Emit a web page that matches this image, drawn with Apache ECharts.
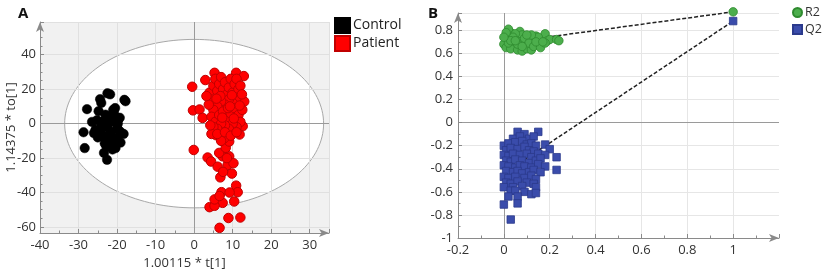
<!DOCTYPE html>
<html>
<head>
<meta charset="utf-8">
<script src="https://cdn.jsdelivr.net/npm/echarts@6/dist/echarts.min.js"></script>
<style>html,body{margin:0;padding:0;background:#fff}#c{width:825px;height:275px}</style>
</head>
<body>
<div id="c"></div>
<script>
// ---------- Panel A: OPLS-DA scores ----------
var controlPoints = [
  [-27.8,8.4],[-22.5,17.6],[-21.8,17],[-24.4,14.2],[-18.1,13.8],[-17.8,13],[-28.7,-5],[-28.4,-14.2],
  [-23.4,-17],[-22.6,-21],[-18.3,-6],[-20.5,9],[-19.3,3.4],[-25.2,2],[-25.6,-3.6],[-23.9,-0.5],
  [-21.7,-4.7],[-23,-8.4],[-21,-11],[-20.4,-14.2],[-19.1,-11],[-20,-2.7],[-22.2,-10],[-23.9,-6.4],
  [-24.8,7.2],[-23,5.2],[-21.3,1.3],[-24.1,12],[-21,8],[-20.8,6],[-26.5,1],[-26,-5.5],[-22.5,-2],
  [-21.5,-7],[-22.8,-13],[-21.2,-15],[-19.8,0],[-20.2,-8.5],[-23.5,1.5],[-24.2,-2.8],[-22,3.5],
  [-25,-8],[-21,4.5],[-19.5,-4],[-23.2,-11.5],[-20.2,2.3],[-18.9,-5.3]
];
var patientPoints = [
  [-0.5,21.4],[2.9,25.3],[-0.3,7.7],[1.4,8.2],[2.2,3.3],[-0.1,-15.3],[5.3,29.5],[10.9,29.5],[12.9,27.6],
  [13,12.8],[12.6,-1.5],[11.8,-6.3],[3.5,-19.7],[6.8,-31.2],[9.8,-29],[10.9,-36],[11.3,-39.8],[7.1,-39.8],
  [10.4,-45.2],[7.4,-46],[4,-48.5],[5.3,-47.7],[8.9,-54.8],[12,-54.5],[6.6,-60.5],[5.3,-44],[6.6,-42],
  [9.2,-40],[4.4,-22],[6.1,-25],[8.7,-24],[7.4,-19],[9.1,-19],[6.5,-17],[8.2,-14],[9.1,-10.4],[7.8,-8.5],
  [5.7,-6.7],[7,-10],[10.2,-23],[7.5,-28],[8.5,-20],
  [4,18],[4.5,14],[5,22],[5.5,26],[6,19],[6.5,23],[7,27],[7.5,20],[8,24],[8.5,17],[9,21],[9.5,26],
  [10,18],[10.5,23],[11,26],[11.5,20],[12,22],[11,15],[10,12],[9,14],[8,11],[7,13],[6,10],[5,8],
  [4.5,4],[5.5,1],[6.5,5],[7.5,7],[8.5,3],[9.5,6],[10.5,9],[11.5,5],[12,1],[11,-2],[10,0],[9,-3],
  [8,-1],[7,0],[6,-3],[5,-2],[4.5,-6],[6,-6],[8,-5],[9.5,-7],[11,-5],[12.5,8],[3.8,11],[3.2,16],
  [6.8,16],[8.8,9],[10.3,3],[7.3,3.5],[5.8,14.5],[9.8,16.5],[11.8,10.5],[4.2,-1],[12.4,17],[9.3,10]
];
var ellipseRadii = [33.6, 48.9];

// ---------- Panel B: permutation test ----------
var r2Points = [
  [0.01,0.72],[0.02,0.75],[0.03,0.78],[0.02,0.81],[0.04,0.70],[0.05,0.66],[0.00,0.68],[0.01,0.65],
  [0.03,0.64],[0.06,0.73],[0.07,0.79],[0.08,0.76],[0.09,0.70],[0.10,0.67],[0.11,0.74],[0.12,0.72],
  [0.13,0.69],[0.14,0.75],[0.15,0.71],[0.16,0.68],[0.17,0.73],[0.18,0.77],[0.19,0.71],[0.20,0.72],
  [0.23,0.72],[0.24,0.71],[0.06,0.63],[0.08,0.62],[0.10,0.64],[0.12,0.63],[0.05,0.77],[0.04,0.74],
  [0.02,0.69],[0.07,0.70],[0.09,0.73],[0.11,0.69],[0.13,0.66],[0.15,0.74],[0.16,0.65],[0.01,0.78],
  [0.03,0.71],[0.06,0.68],[0.08,0.66],[0.14,0.70],[0.18,0.69],[0.12,0.76],[0.00,0.74],[0.05,0.71],
  [0.10,0.76],[0.17,0.70],[1.00,0.96]
];
var q2Points = [
  [0.06,-0.08],[0.09,-0.10],[0.15,-0.08],[0.04,-0.14],[0.07,-0.12],[0.11,-0.14],[0.13,-0.12],
  [0.00,-0.20],[0.02,-0.18],[0.05,-0.17],[0.08,-0.16],[0.10,-0.19],[0.12,-0.18],[0.14,-0.20],
  [0.01,-0.24],[0.03,-0.22],[0.06,-0.23],[0.09,-0.21],[0.11,-0.24],[0.13,-0.25],[0.18,-0.19],[0.20,-0.23],
  [0.00,-0.28],[0.02,-0.29],[0.04,-0.27],[0.07,-0.28],[0.10,-0.27],[0.12,-0.30],[0.15,-0.27],[0.18,-0.28],[0.23,-0.30],
  [0.01,-0.33],[0.03,-0.34],[0.05,-0.32],[0.08,-0.33],[0.11,-0.35],[0.14,-0.33],[0.16,-0.31],
  [0.00,-0.37],[0.02,-0.38],[0.05,-0.39],[0.07,-0.37],[0.09,-0.38],[0.12,-0.39],[0.15,-0.36],[0.18,-0.38],
  [0.01,-0.42],[0.04,-0.43],[0.06,-0.42],[0.08,-0.44],[0.11,-0.43],[0.13,-0.41],[0.16,-0.43],[0.23,-0.41],
  [0.00,-0.47],[0.02,-0.48],[0.05,-0.47],[0.09,-0.48],[0.12,-0.46],[0.14,-0.49],
  [0.01,-0.52],[0.03,-0.53],[0.06,-0.51],[0.10,-0.52],[0.13,-0.53],
  [0.00,-0.56],[0.04,-0.56],[0.08,-0.55],[0.14,-0.56],
  [0.03,-0.59],[0.05,-0.59],[0.09,-0.60],[0.12,-0.62],[0.14,-0.61],
  [0.02,-0.64],[0.06,-0.64],[0.00,-0.71],[0.06,-0.70],[0.03,-0.84],[1.00,0.88]
];
var r2Line = [[0,0.69],[1,0.96]];
var q2Line = [[0,-0.44],[1,0.88]];

var FONT = 'Open Sans';
var axisCol = '#8a8a8a';
function axisBase(o){
  var base = {
    type:'value',
    axisLine:{show:true,onZero:false,symbol:['none','arrow'],symbolSize:[6,10],lineStyle:{color:axisCol,width:1}},
    axisTick:{show:true,inside:true,length:4,lineStyle:{color:axisCol}},
    minorTick:{show:true,splitNumber:2,length:2.5,lineStyle:{color:axisCol}},
    axisLabel:{color:'#333',fontSize:13,fontFamily:FONT,showMaxLabel:false},
    splitLine:{show:true,lineStyle:{color:'#e0e0e0',width:1}},
    nameMoveOverlap:false,
    nameTextStyle:{color:'#333',fontSize:13,fontFamily:FONT}
  };
  for (var k in o) base[k]=o[k];
  return base;
}

var chart = echarts.init(document.getElementById('c'), null, {renderer:'canvas'});
chart.setOption({
  animation:false,
  backgroundColor:'#fff',
  title:[
    {text:'A',left:13,top:1,textStyle:{fontSize:15,fontWeight:'bold',color:'#111',fontFamily:FONT}},
    {text:'B',left:423,top:1,textStyle:{fontSize:15,fontWeight:'bold',color:'#111',fontFamily:FONT}}
  ],
  legend:[
    {data:['Control','Patient'],orient:'vertical',left:329,top:12,icon:'rect',itemWidth:15,itemHeight:15,itemGap:1,padding:[5,5,5,5],
     textStyle:{fontSize:14,lineHeight:15,color:'#222',fontFamily:FONT,padding:[0,0,0,-2]}},
    {data:[{name:'R2',icon:'circle'},{name:'Q2',icon:'rect'}],orient:'vertical',left:792,top:1,itemWidth:9,itemHeight:9,itemGap:4,padding:[5,0,5,0],
     textStyle:{fontSize:12.5,lineHeight:12,color:'#333',fontFamily:FONT,padding:[0,0,0,-2]}}
  ],
  grid:[
    {left:40,right:496,top:22,bottom:40,containLabel:false},
    {left:458,right:46,top:13,bottom:37,containLabel:false}
  ],
  xAxis:[
    axisBase({gridIndex:0,min:-40,max:35,interval:10,name:'1.00115 * t[1]',nameLocation:'middle',nameGap:24,
      axisLabel:{color:'#333',fontSize:13,fontFamily:FONT,showMaxLabel:false,margin:6}}),
    axisBase({gridIndex:1,min:-0.2,max:1.2,interval:0.2,
      axisLabel:{color:'#333',fontSize:13,fontFamily:FONT,showMaxLabel:false,margin:6},
      splitLine:{show:true,lineStyle:{color:['#e6e6e6','#e6e6e6','#e6e6e6','#e6e6e6','#e6e6e6','#e6e6e6','#e6e6e6','rgba(0,0,0,0)'],width:1}}})
  ],
  yAxis:[
    axisBase({gridIndex:0,min:-63.5,max:59,minInterval:20,maxInterval:20,name:'1.14375 * to[1]',nameLocation:'middle',nameGap:22,
      minorTick:{show:true,splitNumber:4,length:2.5,lineStyle:{color:axisCol}},
      axisLabel:{color:'#333',fontSize:13,fontFamily:FONT,showMaxLabel:false,showMinLabel:false,margin:4}}),
    axisBase({gridIndex:1,min:-1,max:0.95,interval:0.2,
      axisLabel:{color:'#333',fontSize:13,fontFamily:FONT,showMaxLabel:false,margin:5},
      splitLine:{show:true,lineStyle:{color:'#e6e6e6',width:1}}})
  ],
  series:[
    {type:'custom',name:'bg',xAxisIndex:0,yAxisIndex:0,z:-1,silent:true,clip:false,data:[[0,0]],
     renderItem:function(params,api){
       var cs=params.coordSys, pts=[];
       for (var i=0;i<=160;i++){var t=i/160*2*Math.PI;pts.push(api.coord([ellipseRadii[0]*Math.cos(t),ellipseRadii[1]*Math.sin(t)]));}
       return {type:'group',children:[
         {type:'rect',shape:{x:cs.x,y:cs.y,width:cs.width,height:cs.height},style:{fill:'#f1f1f1'}},
         {type:'polygon',shape:{points:pts},style:{fill:'#ffffff',stroke:'#a8a8a8',lineWidth:1}}
       ]};
     }},
    {type:'scatter',name:'Control',xAxisIndex:0,yAxisIndex:0,data:controlPoints,symbol:'circle',symbolSize:9.5,
     itemStyle:{color:'#000',borderColor:'#000',borderWidth:0.5,opacity:1},
     markLine:{silent:true,symbol:'none',z:1,label:{show:false},lineStyle:{color:'#9a9a9a',width:1,type:'solid'},
       data:[{xAxis:0},{yAxis:0}]}},
    {type:'scatter',name:'Patient',xAxisIndex:0,yAxisIndex:0,data:patientPoints,symbol:'circle',symbolSize:9.5,
     itemStyle:{color:'#ff0000',borderColor:'#c00000',borderWidth:1,opacity:1}},
    {type:'line',name:'r2line',xAxisIndex:1,yAxisIndex:1,data:r2Line,symbol:'none',z:1,clip:false,silent:true,
     lineStyle:{color:'#222',width:1.5,type:[4,2]},
     markLine:{silent:true,symbol:'none',z:0,label:{show:false},lineStyle:{color:'#9a9a9a',width:1,type:'solid'},
       data:[{xAxis:0},{yAxis:0}]}},
    {type:'line',name:'q2line',xAxisIndex:1,yAxisIndex:1,data:q2Line,symbol:'none',z:1,clip:false,silent:true,
     lineStyle:{color:'#222',width:1.5,type:[4,2]}},
    {type:'scatter',name:'R2',xAxisIndex:1,yAxisIndex:1,data:r2Points,symbol:'circle',symbolSize:8.5,clip:false,
     itemStyle:{color:'#4cae4c',borderColor:'#2f8a2f',borderWidth:0.8,opacity:1}},
    {type:'scatter',name:'Q2',xAxisIndex:1,yAxisIndex:1,data:q2Points,symbol:'rect',symbolSize:7.5,clip:false,
     itemStyle:{color:'#3a4cab',borderColor:'#2b3a8c',borderWidth:0.8,opacity:1}}
  ]
});
</script>
</body>
</html>
